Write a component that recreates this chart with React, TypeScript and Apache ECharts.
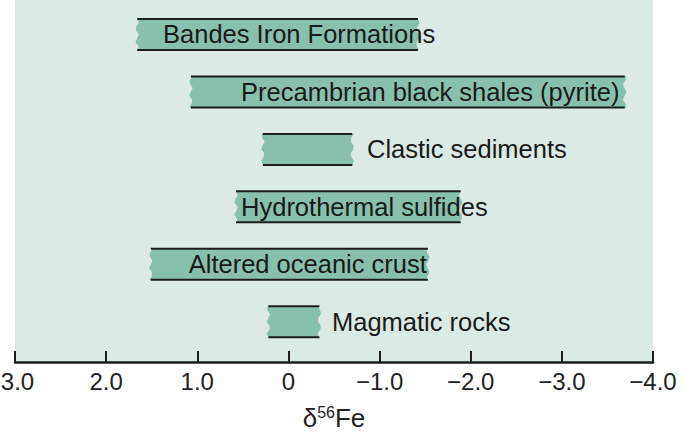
import React, { useEffect, useRef } from "react";
import * as echarts from "echarts";

const categories = [
  "Bandes Iron Formations",
  "Precambrian black shales (pyrite)",
  "Clastic sediments",
  "Hydrothermal sulfides",
  "Altered oceanic crust",
  "Magmatic rocks",
];
const rangeHigh = [1.66, 1.07, 0.28, 0.575, 1.51, 0.22];
const rangeLow = [-1.42, -3.69, -0.7, -1.89, -1.53, -0.34];
const labelStart = [1.376, 0.52, -0.862, 0.52, 1.094, -0.478];

const xMin = -4;
const xMax = 3;
const xInterval = 1;

const BG = "#dceae5";
const BAR = "#87c1ad";
const INK = "#1d1d1d";
const FONT = "'Liberation Sans', Arial, Helvetica, sans-serif";

export default function App() {
  const ref = useRef<HTMLDivElement>(null);
  useEffect(() => {
    if (!ref.current) return;
    const chart = echarts.init(ref.current, undefined, { renderer: "svg" });
    const data = categories.map((c, i) => [i, rangeHigh[i], rangeLow[i], labelStart[i]]);
    chart.setOption({
      animation: false,
      backgroundColor: "#ffffff",
      grid: {
        left: 15,
        right: 32,
        top: 0,
        bottom: 75,
        show: true,
        backgroundColor: BG,
        borderWidth: 0,
        containLabel: false,
        outerBoundsMode: "none",
      },
      xAxis: {
        type: "value",
        min: xMin,
        max: xMax,
        interval: xInterval,
        inverse: true,
        position: "bottom",
        splitLine: { show: false },
        axisLine: { show: true, onZero: false, lineStyle: { color: INK, width: 2.5 } },
        axisTick: { show: true, inside: true, length: 11, lineStyle: { color: INK, width: 2 } },
        axisLabel: {
          color: "#222",
          fontSize: 24,
          fontFamily: FONT,
          margin: 7,
          formatter: (v: number) => {
            if (v === xMax) return "{e|" + v.toFixed(1) + "}";
            return v === 0 ? "0" : (v < 0 ? "\u2212" : "") + Math.abs(v).toFixed(1);
          },
          rich: {
            e: { fontSize: 24, fontFamily: FONT, color: "#222", padding: [0, 0, 0, 5] },
          },
        },
        name: "{a|δ}{s|56}{a|Fe}",
        nameLocation: "middle",
        nameGap: 42,
        nameTextStyle: {
          rich: {
            a: { fontSize: 26, fontFamily: FONT, color: "#222" },
            s: { fontSize: 16, fontFamily: FONT, color: "#222", padding: [0, 0, 11, 0] },
          },
        },
      },
      yAxis: {
        type: "value",
        min: -0.6,
        max: 5.7,
        inverse: true,
        show: false,
        splitLine: { show: false },
      },
      series: [
        {
          type: "custom",
          encode: { x: [1, 2, 3], y: 0 },
          data,
          renderItem: (params: any, api: any) => {
            const yi = api.value(0);
            const p1 = api.coord([api.value(1), yi]);
            const p2 = api.coord([api.value(2), yi]);
            const pl = api.coord([api.value(3), yi]);
            const xL = Math.min(p1[0], p2[0]);
            const xR = Math.max(p1[0], p2[0]);
            const h = 31;
            const yc = p1[1];
            const top = yc - h / 2;
            const bot = yc + h / 2;
            const n = 8;
            const amp = 1.8;
            const pts: number[][] = [];
            for (let k = 0; k <= n; k++) {
              const y = top + (k * h) / n;
              pts.push([xR + amp * Math.sin(k * 1.7 + yi), y]);
            }
            for (let k = n; k >= 0; k--) {
              const y = top + (k * h) / n;
              pts.push([xL + amp * Math.sin(k * 1.9 + yi * 2), y]);
            }
            return {
              type: "group",
              children: [
                { type: "polygon", shape: { points: pts }, style: { fill: BAR } },
                { type: "line", shape: { x1: xL, y1: top, x2: xR, y2: top }, style: { stroke: INK, lineWidth: 2 } },
                { type: "line", shape: { x1: xL, y1: bot, x2: xR, y2: bot }, style: { stroke: INK, lineWidth: 2 } },
                {
                  type: "text",
                  style: {
                    text: categories[yi],
                    x: pl[0],
                    y: yc,
                    align: "left",
                    verticalAlign: "middle",
                    fontSize: 25.5,
                    fontFamily: FONT,
                    fill: "#1a1a1a",
                  },
                },
              ],
            };
          },
        },
      ],
    });
    return () => chart.dispose();
  }, []);
  return (
    <div
      ref={ref}
      style={{ position: "fixed", left: 0, top: 0, width: 685, height: 437 }}
    />
  );
}
